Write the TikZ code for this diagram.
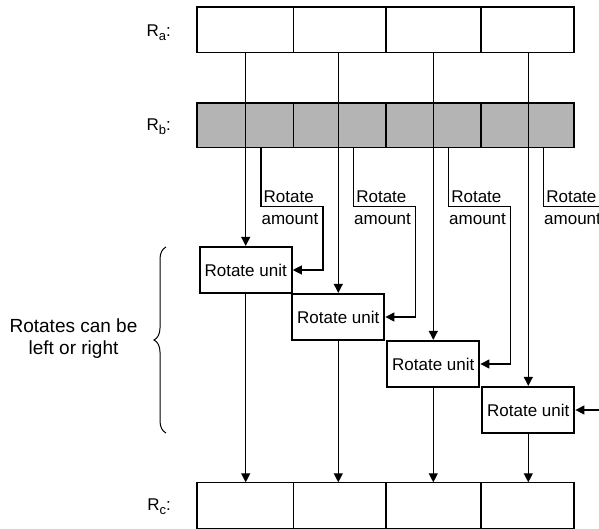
\documentclass[tikz,border=0pt]{standalone}
\usepackage{fontspec}
\setmainfont{Liberation Sans}
\usetikzlibrary{arrows.meta,calc,decorations.pathreplacing}
\definecolor{regfill}{RGB}{180,180,180}
\newcommand{\regname}[1]{R\raisebox{-4pt}{\fontsize{13}{13}\selectfont #1}:}
\begin{document}
\begin{tikzpicture}[x=1pt,y=-1pt,
  lbl/.style={font=\fontsize{17}{22}\selectfont, inner sep=0pt},
  regcell/.style={draw, line width=1.2pt, inner sep=0pt, outer sep=0pt, anchor=north west},
  unitbox/.style={draw, line width=2.2pt, minimum width=92pt, minimum height=46pt,
    inner sep=0pt, font=\fontsize{17}{22}\selectfont},
  wire/.style={line width=1.2pt},
  tip/.style={-{Triangle[length=9pt,width=9pt]}}]
\useasboundingbox (0,0) rectangle (599,529);
\clip (0,0) rectangle (599,529);

% register Ra
\foreach \l/\r [count=\i] in {197/293.3, 293.3/386, 386/481, 481/574}
  \node[regcell, minimum width=\r-\l, minimum height=45.3] (ra\i) at (\l,7) {};
% register Rb (shaded, eight fields)
\foreach \l/\r [count=\i] in {197/245.7, 245.7/293.3, 293.3/338.3, 338.3/386,
    386/433.3, 433.3/481, 481/528.3, 528.3/574}
  \node[regcell, fill=regfill, minimum width=\r-\l, minimum height=44.3] (rb\i) at (\l,103) {};
% register Rc
\foreach \l/\r [count=\i] in {197/293.3, 293.3/386, 386/481, 481/574}
  \node[regcell, minimum width=\r-\l, minimum height=46] (rc\i) at (\l,482.3) {};

% register names
\node[lbl, anchor=base east] (la) at (171,36.7) {\regname{a}};
\node[lbl, anchor=base east] (lb) at (171,131) {\regname{b}};
\node[lbl, anchor=base east] (lc) at (171,510) {\regname{c}};

% rotate units, staggered
\node[unitbox] (u1) at (245.7,270) {Rotate unit};
\node[unitbox] (u2) at (338.3,317) {Rotate unit};
\node[unitbox] (u3) at (433.3,364) {Rotate unit};
\node[unitbox] (u4) at (528.3,410) {Rotate unit};

% data paths Ra -> unit -> Rc, and rotate amounts from Rb
\foreach \i in {1,...,4} {
  \draw[wire, tip] (u\i.north |- ra\i.south) -- (u\i.north);
  \draw[wire, tip] (u\i.south) -- (u\i.south |- rc\i.north);
  \draw[wire, tip] ($(u\i.north |- rb1.south)+(15.3,0)$) -- ++(0,59.4) coordinate (ca\i)
    -- ++(62,0) coordinate (cb\i) |- (u\i.east);
  \node[lbl, anchor=base west] (rt\i) at ($(ca\i)+(2.5,-4.4)$) {Rotate};
  \node[lbl, anchor=base east] (am\i) at ($(cb\i)+(-4.5,18.3)$) {amount};
}

% brace and note
\coordinate (bt) at (166,247);
\coordinate (bb) at (166,433);
\draw[line width=1pt, decorate, decoration={brace, amplitude=12pt}] (bb) -- (bt);
\node[lbl, font=\fontsize{19}{22}\selectfont, align=center] (note) at (73.5,339) {Rotates can be\\left or right};
\end{tikzpicture}
\end{document}
